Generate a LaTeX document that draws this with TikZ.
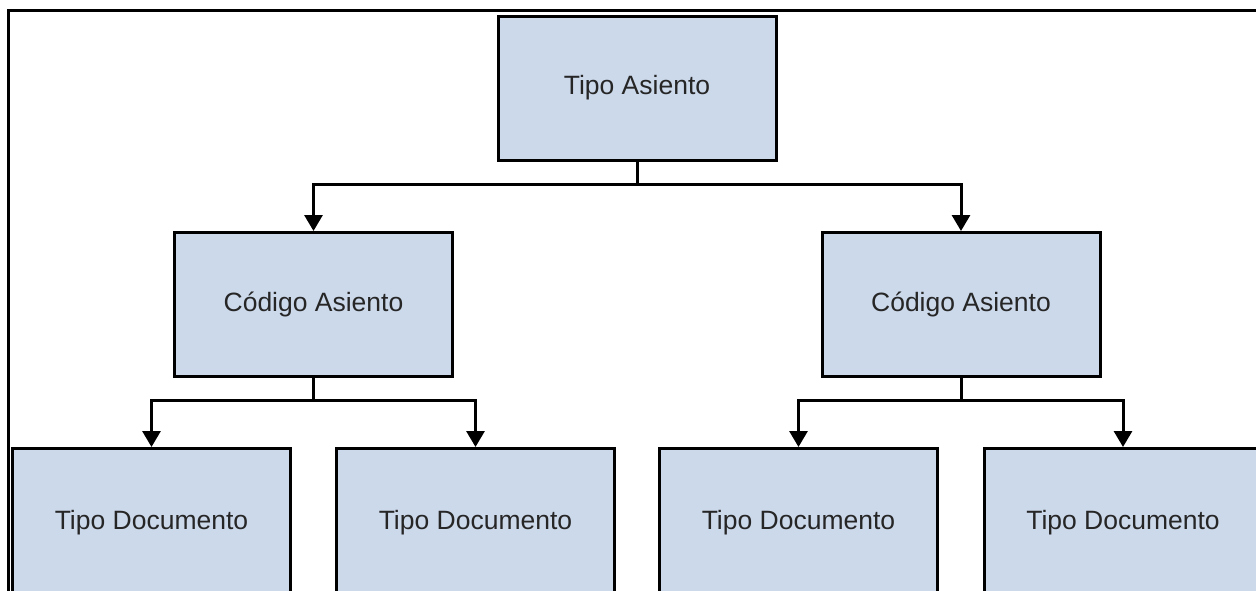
\documentclass[tikz,border=0pt]{standalone}
\usepackage{fontspec}
\setmainfont{Liberation Sans}
\usetikzlibrary{arrows.meta}
\definecolor{boxfill}{RGB}{204,217,235}
\definecolor{txt}{RGB}{38,38,38}
\tikzset{
  entity/.style={draw=black, fill=boxfill, line width=3pt, minimum width=278pt,
    minimum height=144pt, inner sep=0pt, text=txt,
    font=\fontsize{26.5}{30}\selectfont},
  leafbox/.style={entity, minimum height=170pt, anchor=north},
  conn/.style={draw=black, line width=3pt, -{Triangle[length=16pt,width=18pt]}},
  frameline/.style={draw=black, line width=3pt}
}
\newcommand{\leaftext}[1]{\raisebox{11pt}[\height][\depth]{#1}}
\begin{document}
\begin{tikzpicture}[x=1pt,y=-1pt]
\useasboundingbox (0,0) rectangle (1256,590);
\clip (0,0) rectangle (1256,590);
\fill[white] (0,0) rectangle (1256,590);
\coordinate (f1) at (8,600);
\coordinate (f2) at (8,10);
\coordinate (f3) at (1260,10);
\draw[frameline] (f1) -- (f2) -- (f3);
\node[entity] (top) at (637,88) {Tipo Asiento};
\node[entity] (ml) at (313.5,304.5) {Código Asiento};
\node[entity] (mr) at (961,304.5) {Código Asiento};
\node[leafbox] (b1) at (151.5,447) {\leaftext{Tipo Documento}};
\node[leafbox] (b2) at (475.5,447) {\leaftext{Tipo Documento}};
\node[leafbox] (b3) at (798.5,447) {\leaftext{Tipo Documento}};
\node[leafbox] (b4) at (1123,447) {\leaftext{Tipo Documento}};
\draw[conn] (top.south) -- ++(0,23) -| (ml.north);
\draw[conn] (top.south) -- ++(0,23) -| (mr.north);
\draw[conn] (ml.south) -- ++(0,22) -| (b1.north);
\draw[conn] (ml.south) -- ++(0,22) -| (b2.north);
\draw[conn] (mr.south) -- ++(0,22) -| (b3.north);
\draw[conn] (mr.south) -- ++(0,22) -| (b4.north);
\end{tikzpicture}
\end{document}
